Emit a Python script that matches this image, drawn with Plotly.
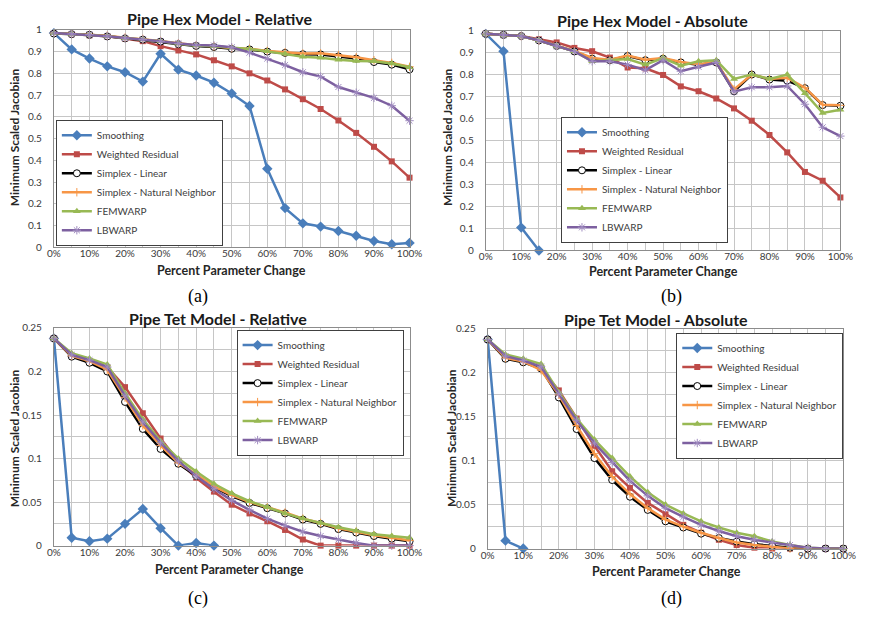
import plotly.graph_objects as go

# Percent parameter change (x axis)
pct = list(range(0, 101, 5))
tick_vals = list(range(0, 101, 10))
tick_text = [f"{v}%" for v in tick_vals]

series_names = ["Smoothing", "Weighted Residual", "Simplex - Linear",
                "Simplex - Natural Neighbor", "FEMWARP", "LBWARP"]

# ---- Pipe Hex Model - Relative ----
hex_rel_smoothing = [0.985, 0.91, 0.868, 0.832, 0.805, 0.762, 0.89, 0.817, 0.79, 0.757, 0.707,
                     0.65, 0.361, 0.18, 0.11, 0.095, 0.075, 0.053, 0.029, 0.014, 0.02]
hex_rel_weighted = [0.985, 0.98, 0.975, 0.97, 0.96, 0.948, 0.925, 0.905, 0.887, 0.86, 0.832,
                    0.8, 0.767, 0.726, 0.681, 0.636, 0.583, 0.526, 0.462, 0.395, 0.32]
hex_rel_linear = [0.983, 0.98, 0.977, 0.97, 0.961, 0.955, 0.946, 0.934, 0.926, 0.921, 0.913,
                  0.91, 0.9, 0.894, 0.888, 0.887, 0.878, 0.868, 0.852, 0.84, 0.818]
hex_rel_natural = [0.985, 0.982, 0.979, 0.973, 0.964, 0.958, 0.949, 0.938, 0.929, 0.924, 0.916,
                   0.913, 0.903, 0.897, 0.891, 0.892, 0.884, 0.874, 0.86, 0.848, 0.83]
hex_rel_femwarp = [0.985, 0.981, 0.978, 0.971, 0.962, 0.956, 0.947, 0.936, 0.928, 0.925, 0.918,
                   0.912, 0.901, 0.89, 0.876, 0.872, 0.862, 0.857, 0.855, 0.845, 0.828]
hex_rel_lbwarp = [0.985, 0.981, 0.978, 0.971, 0.962, 0.956, 0.947, 0.937, 0.93, 0.928, 0.92,
                  0.895, 0.868, 0.838, 0.805, 0.785, 0.737, 0.711, 0.687, 0.651, 0.582]

# ---- Pipe Hex Model - Absolute ----
hex_abs_smoothing = [0.985, 0.906, 0.104, 0.0] + [None] * 17
hex_abs_weighted = [0.985, 0.98, 0.975, 0.96, 0.946, 0.921, 0.906, 0.877, 0.832, 0.828, 0.798,
                    0.746, 0.724, 0.691, 0.646, 0.59, 0.525, 0.446, 0.357, 0.317, 0.241]
hex_abs_linear = [0.985, 0.98, 0.975, 0.955, 0.93, 0.905, 0.872, 0.865, 0.884, 0.865, 0.872,
                  0.855, 0.845, 0.855, 0.724, 0.8, 0.777, 0.772, 0.738, 0.661, 0.658]
hex_abs_natural = [0.985, 0.98, 0.975, 0.955, 0.932, 0.907, 0.875, 0.867, 0.886, 0.867, 0.875,
                   0.857, 0.847, 0.857, 0.732, 0.8, 0.78, 0.785, 0.74, 0.663, 0.66]
hex_abs_femwarp = [0.985, 0.98, 0.975, 0.955, 0.93, 0.905, 0.86, 0.865, 0.87, 0.845, 0.875,
                   0.84, 0.86, 0.865, 0.78, 0.8, 0.78, 0.8, 0.715, 0.625, 0.64]
hex_abs_lbwarp = [0.985, 0.98, 0.975, 0.955, 0.93, 0.905, 0.86, 0.86, 0.845, 0.82, 0.865,
                  0.815, 0.835, 0.855, 0.722, 0.742, 0.742, 0.748, 0.665, 0.56, 0.52]

# ---- Pipe Tet Model - Relative ----
tet_rel_smoothing = [0.238, 0.009, 0.005, 0.008, 0.025, 0.042, 0.02, 0.0, 0.003, 0.0] + [None] * 11
tet_rel_weighted = [0.238, 0.218, 0.212, 0.205, 0.182, 0.152, 0.123, 0.097, 0.078, 0.062, 0.047,
                    0.037, 0.028, 0.018, 0.007, 0.0, 0.0, 0.0, 0.0, 0.0, 0.0]
tet_rel_linear = [0.238, 0.217, 0.21, 0.2, 0.165, 0.134, 0.111, 0.094, 0.08, 0.067, 0.057,
                  0.049, 0.043, 0.037, 0.03, 0.025, 0.019, 0.015, 0.011, 0.008, 0.005]
tet_rel_natural = [0.238, 0.218, 0.212, 0.202, 0.17, 0.138, 0.115, 0.095, 0.082, 0.068, 0.058,
                   0.05, 0.044, 0.038, 0.031, 0.026, 0.02, 0.016, 0.012, 0.009, 0.006]
tet_rel_femwarp = [0.238, 0.221, 0.215, 0.208, 0.175, 0.145, 0.12, 0.1, 0.085, 0.071, 0.06,
                   0.051, 0.044, 0.037, 0.031, 0.026, 0.021, 0.017, 0.013, 0.011, 0.009]
tet_rel_lbwarp = [0.238, 0.219, 0.213, 0.205, 0.172, 0.142, 0.118, 0.097, 0.08, 0.065, 0.052,
                  0.041, 0.031, 0.023, 0.016, 0.011, 0.007, 0.003, 0.0, 0.0, 0.0]

# ---- Pipe Tet Model - Absolute ----
tet_abs_smoothing = [0.238, 0.009, 0.0] + [None] * 18
tet_abs_weighted = [0.238, 0.217, 0.213, 0.205, 0.18, 0.148, 0.117, 0.088, 0.069, 0.052, 0.039,
                    0.027, 0.018, 0.01, 0.004, 0.001, 0.0, 0.0, 0.0, 0.0, 0.0]
tet_abs_linear = [0.238, 0.216, 0.212, 0.205, 0.172, 0.136, 0.103, 0.078, 0.059, 0.044, 0.031,
                  0.024, 0.017, 0.012, 0.008, 0.005, 0.003, 0.001, 0.0, 0.0, 0.0]
tet_abs_natural = [0.238, 0.217, 0.213, 0.203, 0.175, 0.14, 0.108, 0.082, 0.062, 0.046, 0.033,
                   0.025, 0.018, 0.012, 0.007, 0.004, 0.002, 0.0, 0.0, 0.0, 0.0]
tet_abs_femwarp = [0.238, 0.221, 0.216, 0.21, 0.178, 0.148, 0.124, 0.103, 0.082, 0.064, 0.05,
                   0.04, 0.031, 0.024, 0.018, 0.014, 0.008, 0.004, 0.001, 0.0, 0.0]
tet_abs_lbwarp = [0.238, 0.219, 0.214, 0.207, 0.176, 0.146, 0.12, 0.098, 0.077, 0.06, 0.046,
                  0.036, 0.027, 0.02, 0.014, 0.01, 0.007, 0.004, 0.001, 0.0, 0.0]

# Line/marker style per series (Excel-like palette)
styles = [
    dict(line=dict(color="#4A7EBB", width=2.5),
         marker=dict(symbol="diamond", size=8, color="#4A7EBB")),
    dict(line=dict(color="#BE4B48", width=2.5),
         marker=dict(symbol="square", size=6, color="#BE4B48")),
    dict(line=dict(color="#000000", width=2.5),
         marker=dict(symbol="circle", size=7, color="white", line=dict(color="#000000", width=1))),
    dict(line=dict(color="#F79646", width=2.5),
         marker=dict(symbol="cross-thin-open", size=6, color="#F79646", line=dict(color="#F79646", width=1))),
    dict(line=dict(color="#98B954", width=2.5),
         marker=dict(symbol="triangle-up", size=7, color="#98B954")),
    dict(line=dict(color="#7D60A0", width=2.5),
         marker=dict(symbol="asterisk-open", size=7, color="#A08CC0", line=dict(color="#A08CC0", width=1))),
]

W, H = 871, 617


def px_x(v):
    return v / W


def px_y(v):
    return 1 - v / H


panels = [
    dict(title="Pipe Hex Model - Relative", caption="(a)",
         data=[hex_rel_smoothing, hex_rel_weighted, hex_rel_linear,
               hex_rel_natural, hex_rel_femwarp, hex_rel_lbwarp],
         xdom=(48, 412), ydom=(245, 23.3), yrange=(0, 1), dtick=0.1, minor=None,
         legend=(50, 115), title_xy=(217, 12), xlab_xy=(230, 269), ylab_xy=(8, 133),
         cap_xy=(196, 295)),
    dict(title="Pipe Hex Model - Absolute", caption="(b)",
         data=[hex_abs_smoothing, hex_abs_weighted, hex_abs_linear,
               hex_abs_natural, hex_abs_femwarp, hex_abs_lbwarp],
         xdom=(490, 853), ydom=(248.3, 24), yrange=(0, 1), dtick=0.1, minor=None,
         legend=(567, 112), title_xy=(661, 14), xlab_xy=(672, 270), ylab_xy=(451, 133),
         cap_xy=(680, 295)),
    dict(title="Pipe Tet Model - Relative", caption="(c)",
         data=[tet_rel_smoothing, tet_rel_weighted, tet_rel_linear,
               tet_rel_natural, tet_rel_femwarp, tet_rel_lbwarp],
         xdom=(48, 412), ydom=(549.3, 327.3), yrange=(0, 0.25), dtick=0.05, minor=0.025,
         legend=(235, 329), title_xy=(216, 318), xlab_xy=(228, 574), ylab_xy=(8, 440),
         cap_xy=(196, 603)),
    dict(title="Pipe Tet Model - Absolute", caption="(d)",
         data=[tet_abs_smoothing, tet_abs_weighted, tet_abs_linear,
               tet_abs_natural, tet_abs_femwarp, tet_abs_lbwarp],
         xdom=(492, 856), ydom=(552.3, 328.3), yrange=(0, 0.25), dtick=0.05, minor=0.025,
         legend=(685, 332), title_xy=(664, 319), xlab_xy=(675, 576), ylab_xy=(455, 440),
         cap_xy=(680, 603)),
]

FONT = "Lato"
GRID = "#C6C6C6"
TICKCOL = "#3A3A3A"

fig = go.Figure()
layout = dict(
    width=W, height=H, margin=dict(l=0, r=0, t=0, b=0),
    paper_bgcolor="white", plot_bgcolor="white",
    font=dict(family=FONT, color=TICKCOL),
    annotations=[],
)

for i, p in enumerate(panels):
    n = i + 1
    xa = "x" if n == 1 else f"x{n}"
    ya = "y" if n == 1 else f"y{n}"
    leg = "legend" if n == 1 else f"legend{n}"
    for name, vals, st in zip(series_names, p["data"], styles):
        fig.add_trace(go.Scatter(
            x=pct, y=vals, name=name, mode="lines+markers",
            line=st["line"], marker=st["marker"],
            xaxis=xa, yaxis=ya, legend=leg, connectgaps=False,
            cliponaxis=False,
        ))

    xkey = "xaxis" if n == 1 else f"xaxis{n}"
    ykey = "yaxis" if n == 1 else f"yaxis{n}"
    layout[xkey] = dict(
        domain=[px_x(p["xdom"][0]), px_x(p["xdom"][1])],
        range=[0, 100], anchor=ya,
        tickmode="array", tickvals=tick_vals, ticktext=tick_text,
        tickfont=dict(size=10, family=FONT, color=TICKCOL),
        showgrid=True, gridcolor=GRID, gridwidth=1,
        minor=dict(tickmode="array", tickvals=[v for v in pct if v % 10 == 5],
                   showgrid=True, gridcolor=GRID, gridwidth=1),
        showline=True, linecolor="#8C8C8C", linewidth=1, mirror=True,
        ticks="", ticklabelstandoff=-3,
        zeroline=False, fixedrange=True,
    )
    ymin, ymax = p["yrange"]
    yax = dict(
        domain=[px_y(p["ydom"][0]), px_y(p["ydom"][1])],
        range=[ymin, ymax], anchor=xa, dtick=p["dtick"], tick0=0,
        tickfont=dict(size=10, family=FONT, color=TICKCOL),
        showgrid=True, gridcolor=GRID, gridwidth=1,
        showline=True, linecolor="#8C8C8C", linewidth=1, mirror=True,
        ticks="", ticklabelstandoff=9,
        zeroline=False, fixedrange=True,
    )
    if p["minor"]:
        yax["minor"] = dict(dtick=p["minor"], tick0=0, showgrid=True,
                            gridcolor=GRID, gridwidth=1)
    layout[ykey] = yax

    layout[leg] = dict(
        x=px_x(p["legend"][0]), y=px_y(p["legend"][1]),
        xanchor="left", yanchor="top",
        bgcolor="white", bordercolor="#404040", borderwidth=1,
        font=dict(size=10, family=FONT, color="#404040"),
        tracegroupgap=0, itemwidth=30,
    )

    layout["annotations"] += [
        dict(text=f"<b>{p['title']}</b>", x=px_x(p["title_xy"][0]), y=px_y(p["title_xy"][1]),
             xref="paper", yref="paper", showarrow=False, xanchor="center", yanchor="middle",
             font=dict(size=16, family=FONT, color="#1A1A1A")),
        dict(text="<b>Percent Parameter Change</b>", x=px_x(p["xlab_xy"][0]), y=px_y(p["xlab_xy"][1]),
             xref="paper", yref="paper", showarrow=False, xanchor="center", yanchor="middle",
             font=dict(size=12.5, family=FONT, color="#262626")),
        dict(text="<b>Minimum Scaled Jacobian</b>", x=px_x(p["ylab_xy"][0]), y=px_y(p["ylab_xy"][1]),
             xref="paper", yref="paper", showarrow=False, xanchor="center", yanchor="middle",
             textangle=-90, font=dict(size=12, family=FONT, color="#262626")),
        dict(text=p["caption"], x=px_x(p["cap_xy"][0]), y=px_y(p["cap_xy"][1]),
             xref="paper", yref="paper", showarrow=False, xanchor="center", yanchor="middle",
             font=dict(size=18, family="Liberation Serif", color="#000000")),
    ]

layout["showlegend"] = True
fig.update_layout(**layout)
fig.write_html("out.html")
